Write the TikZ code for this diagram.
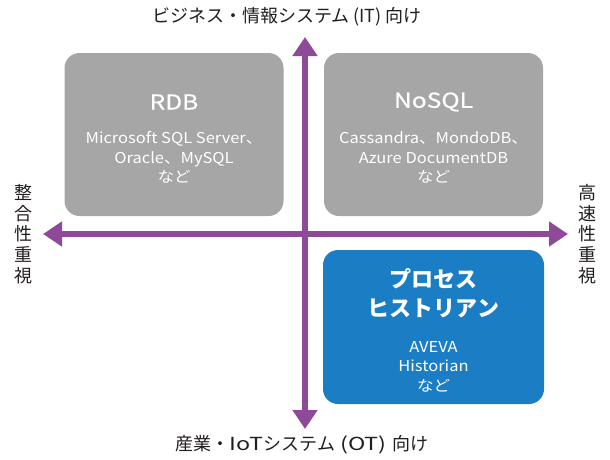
\documentclass[tikz,border=0pt]{standalone}
\usepackage{fontspec}
\setmainfont{Noto Sans CJK JP}
\newfontfamily\subfont[FakeStretch=1.1]{Noto Sans CJK JP}
\newfontfamily\titlefont[FakeStretch=1.2,FakeBold=0.6]{Noto Sans CJK JP}
\newfontfamily\widelat[FakeStretch=1.3]{Noto Sans CJK JP}
\usepackage{tikz}
\usetikzlibrary{arrows.meta,positioning}
\definecolor{dbgray}{RGB}{166,166,166}
\definecolor{histblue}{RGB}{27,125,195}
\definecolor{axispurple}{RGB}{142,73,153}
\definecolor{labelink}{RGB}{35,30,30}
\tikzset{
  quadbox/.style = {rectangle, rounded corners=15pt, inner sep=0pt,
    minimum width=219pt, minimum height=163pt},% quadrant box
  db_box/.style = {quadbox, fill=dbgray},% database box
  hist_box/.style = {quadbox, fill=histblue, minimum width=221pt,
    minimum height=154pt},% historian box
  box_title/.style = {align=center, text=white, inner sep=0pt,
    font=\titlefont\fontsize{20.5}{29}\selectfont},
  box_sub/.style = {align=center, text=white, inner sep=0pt,
    font=\subfont\fontsize{15}{19.5}\selectfont},
  axis_lbl/.style = {align=center, text=labelink, inner sep=0pt,
    font=\fontsize{18}{20.6}\selectfont},
  axisarrow/.style = {draw=axispurple, line width=6pt,
    {Triangle[width=24pt,length=19pt]}-{Triangle[width=24pt,length=19pt]}}
}
\begin{document}
\begin{tikzpicture}[x=1pt,y=-1pt]
        \useasboundingbox (0,0) rectangle (610,459);
        % axes
        \coordinate (W) at (43,234);
        \coordinate (E) at (568,234);
        \coordinate (N) at (305,37);
        \coordinate (S) at (305,429);
        \draw[axisarrow] (W) -- (E);
        \draw[axisarrow] (N) -- (S);
        % quadrants
        \node [db_box] (rdb) at (174,134.5) {};
        \node [db_box] (nosql) at (433.5,134.5) {};
        \node [hist_box] (hist) at (433.5,327) {};
        \node [box_title] (rdbT) at (rdb.center |- 0,102) {RDB};
        \node [box_sub] (rdbS) at (rdb.center |- 0,157.5)
            {Microsoft SQL Server、\\Oracle、MySQL\\など};
        \node [box_title] (nosqlT) at (nosql.center |- 0,102) {NoSQL};
        \node [box_sub] (nosqlS) at (nosql.center |- 0,157.5)
            {Cassandra、MondoDB、\\Azure DocumentDB\\など};
        \node [box_title, font=\normalfont\fontsize{22}{29}\selectfont\bfseries] (histT)
            at (hist.center |- 0,293.5) {プロセス\\ヒストリアン};
        \node [box_sub] (histS) at (hist.center |- 0,366.5)
            {AVEVA\\Historian\\など};
        % axis labels
        \node [axis_lbl] (top) at (287,17) {ビジネス・情報システム (IT) 向け};
        \node [axis_lbl] (bottom) at (302,445)
            {産業・{\widelat IoT}システム{\widelat\ (OT)\ }向け};
        \node [axis_lbl] (left) at (23,234) {整\\合\\性\\重\\視};
        \node [axis_lbl] (right) at (587,234) {高\\速\\性\\重\\視};
\end{tikzpicture}
\end{document}
